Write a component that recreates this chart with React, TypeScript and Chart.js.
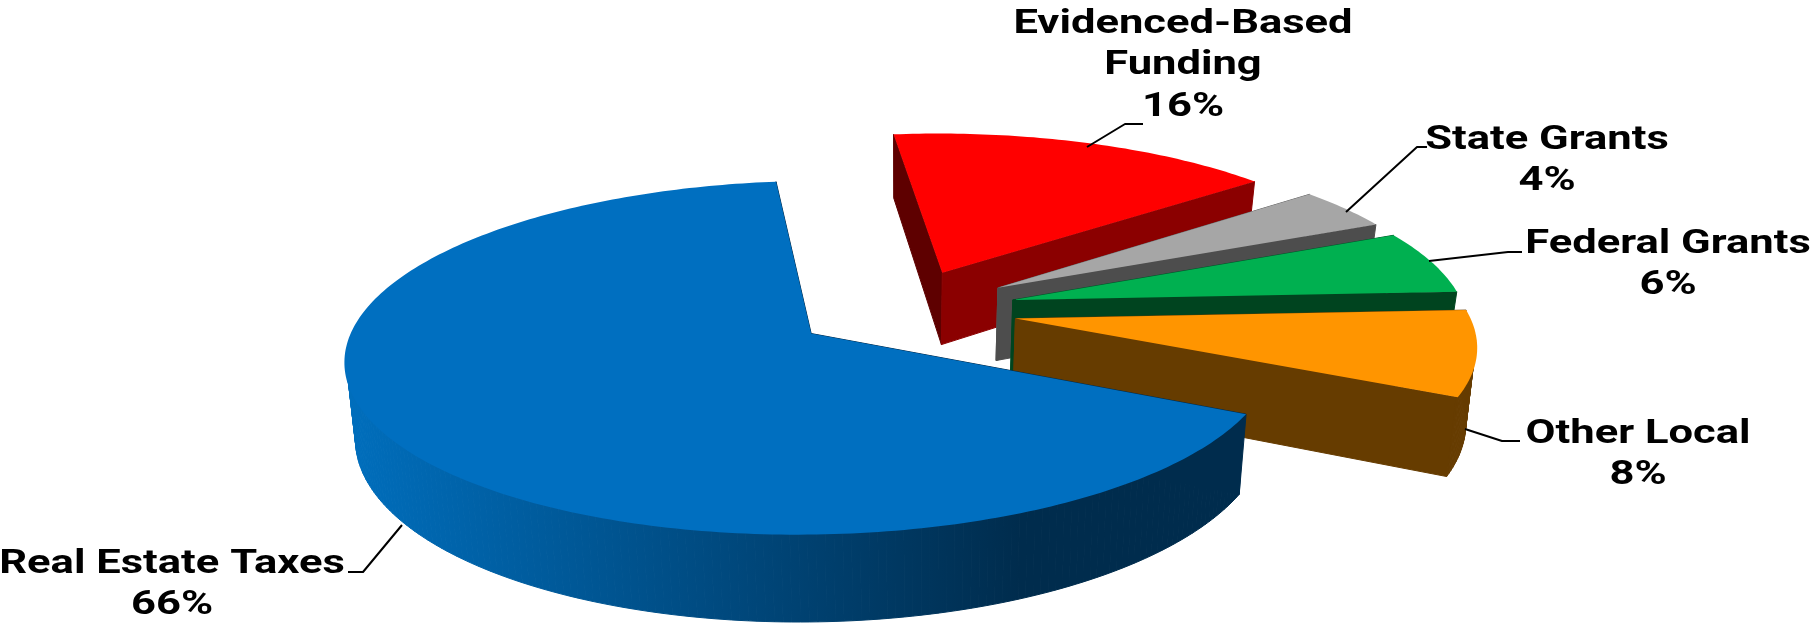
import React, { useEffect, useRef } from "react";
import { Chart, ArcElement, PieController } from "chart.js";

const categories = ["Evidenced-Based Funding", "State Grants", "Federal Grants", "Other Local", "Real Estate Taxes"];
const shares = [16, 4, 6, 8, 66];
const explode = [112, 116, 116, 116, 108];
const topColors = ["#FF0000", "#A6A6A6", "#00B050", "#FF9500", "#006FC0"];
const wallColors = ["#8B0000", "#4D4D4D", "#00441F", "#663C00", "#002C4D"];
const backWallColors = ["#5E0000", "#666666", "#00562A", "#663C00", "#002C4D"];
const labelLines = [["Evidenced-Based", "Funding", "16%"], ["State Grants", "4%"], ["Federal Grants", "6%"], ["Other Local", "8%"], ["Real Estate Taxes", "66%"]];
const labelCenters = [[1183, 24], [1547, 140], [1668, 244], [1638, 434], [172, 564]];
const leaderPaths = [
  [[1087, 147], [1125, 124], [1143, 124]],
  [[1346, 212], [1417, 147], [1427, 147]],
  [[1429, 261], [1508, 252], [1522, 252]],
  [[1465, 429], [1502, 441], [1520, 441]],
  [[402, 525], [363, 572], [348, 572]],
];

// Ground-plane tilt, viewer distance and slab thickness of the pie
const TILT = 0.37;
const VIEW_DIST = 3366;
const THICKNESS = 74;
const FLOOR_SHRINK = 0.98;
const LINE_PITCH = 41.5;
const TEXT_STRETCH = 1.28;

class Arc3D extends ArcElement {
  static id = "arc3d";
  draw(ctx: CanvasRenderingContext2D) {
    const { x, y, startAngle, endAngle, outerRadius, options } = this as any;
    const mid = (startAngle + endAngle) / 2;
    const ox = Math.cos(mid) * options.offset;
    const oy = Math.sin(mid) * options.offset;
    const project = (r: number, a: number, low: boolean) => {
      const gx = ox + r * Math.cos(a);
      const gy = oy + r * Math.sin(a);
      const s = VIEW_DIST / (VIEW_DIST - gy);
      return low
        ? [x + s * gx * FLOOR_SHRINK, y + s * (TILT * gy + THICKNESS)]
        : [x + s * gx, y + s * TILT * gy];
    };
    const trace = (pts: number[][], fill: string | CanvasGradient, bleed = true) => {
      ctx.beginPath();
      pts.forEach((p, i) => (i ? ctx.lineTo(p[0], p[1]) : ctx.moveTo(p[0], p[1])));
      ctx.closePath();
      ctx.fillStyle = fill;
      ctx.fill();
      if (bleed) {
        // Hairline in the same colour so neighbouring faces leave no seam
        ctx.strokeStyle = fill;
        ctx.lineWidth = 1;
        ctx.lineJoin = "round";
        ctx.stroke();
      }
    };
    const steps = Math.ceil((endAngle - startAngle) * 60);
    const rim: number[][] = [];
    const upper: number[][] = [];
    const lower: number[][] = [];
    for (let i = 0; i <= steps; i++) {
      const a = startAngle + ((endAngle - startAngle) * i) / steps;
      rim.push(project(outerRadius, a, false));
      // Only the part of the rim turned toward the viewer shows its side
      if (Math.sin(a) >= 0) {
        upper.push(project(outerRadius - 2, a, false));
        lower.push(project(outerRadius, a, true));
      }
    }
    const apex = project(0, 0, false);
    const apexLow = project(0, 0, true);
    const idx = (this as any).$context.dataIndex;

    trace([apex, rim[0], project(outerRadius, startAngle, true), apexLow], backWallColors[idx]);
    trace([apex, rim[steps], project(outerRadius, endAngle, true), apexLow], wallColors[idx]);

    if (upper.length > 1) {
      let side: string | CanvasGradient = wallColors[idx];
      if (categories[idx] === "Real Estate Taxes") {
        const g = ctx.createLinearGradient(340, 0, 1020, 0);
        g.addColorStop(0, "#006FBE");
        g.addColorStop(1, wallColors[idx]);
        side = g;
      }
      // The side is filled quad by quad: it folds over itself at the silhouette
      for (let i = 0; i + 1 < upper.length; i++) {
        trace([upper[i], upper[i + 1], lower[i + 1], lower[i]], side, true);
      }
    }
    trace([apex, ...rim], options.backgroundColor, false);
  }
}

class Pie3DController extends PieController {
  static id = "pie3d";
  static defaults = { dataElementType: "arc3d" };
}

Chart.register(Arc3D, Pie3DController);

const calloutPlugin = {
  id: "callouts",
  afterDatasetsDraw(chart: any) {
    const { ctx } = chart;
    ctx.save();
    ctx.strokeStyle = "#000";
    ctx.lineWidth = 2;
    leaderPaths.forEach((path) => {
      ctx.beginPath();
      path.forEach((p, i) => (i ? ctx.lineTo(p[0], p[1]) : ctx.moveTo(p[0], p[1])));
      ctx.stroke();
    });
    ctx.fillStyle = "#000";
    ctx.font = "700 34px Roboto";
    ctx.textAlign = "center";
    ctx.textBaseline = "middle";
    labelLines.forEach((lines, i) => {
      lines.forEach((text, j) => {
        ctx.save();
        ctx.translate(labelCenters[i][0], labelCenters[i][1] + j * LINE_PITCH);
        ctx.scale(TEXT_STRETCH, 1);
        ctx.fillText(text, 0, 0);
        ctx.restore();
      });
    });
    ctx.restore();
  },
};

export default function App() {
  const ref = useRef<HTMLCanvasElement>(null);
  useEffect(() => {
    document.body.style.margin = "0";
    const chart = new Chart(ref.current!, {
      type: "pie3d" as any,
      data: {
        labels: categories,
        datasets: [
          {
            data: shares,
            backgroundColor: topColors,
            borderWidth: 0,
            offset: explode,
            clip: false,
          } as any,
        ],
      },
      options: {
        responsive: false,
        animation: false,
        rotation: -6.5,
        radius: 452,
        layout: { padding: { right: 17, bottom: 7 } },
        plugins: { legend: { display: false }, tooltip: { enabled: false } },
      } as any,
      plugins: [calloutPlugin],
    });
    return () => chart.destroy();
  }, []);
  return <canvas ref={ref} width={1819} height={627} style={{ display: "block" }} />;
}
